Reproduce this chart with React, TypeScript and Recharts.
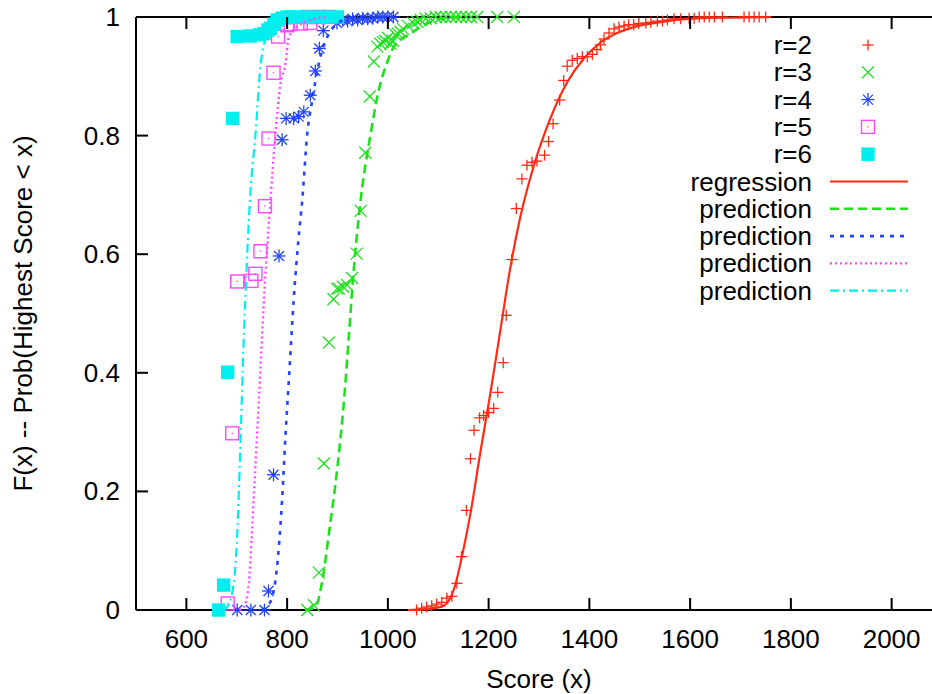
import { ScatterChart, Scatter, XAxis, YAxis, ReferenceLine, Legend } from 'recharts'

const X_TICKS = [600, 800, 1000, 1200, 1400, 1600, 1800, 2000]
const Y_TICKS = [0, 0.2, 0.4, 0.6, 0.8, 1]

// observed highest scores, [score, F(x)]
const r2Points: [number, number][] = [
  [1057, 0], [1067, 0.003], [1077, 0.005], [1087, 0.007], [1097, 0.01], [1107, 0.013], [1117, 0.02],
  [1127, 0.023], [1137, 0.045], [1146, 0.09], [1156, 0.168], [1164, 0.255], [1171, 0.303], [1182, 0.324],
  [1190, 0.328], [1200, 0.333], [1210, 0.34], [1218, 0.367], [1229, 0.417], [1235, 0.497], [1246, 0.591],
  [1255, 0.677], [1266, 0.727], [1276, 0.75], [1286, 0.755], [1296, 0.757], [1311, 0.767], [1319, 0.79],
  [1328, 0.82], [1341, 0.86], [1349, 0.893], [1356, 0.917], [1366, 0.927], [1376, 0.93], [1386, 0.933],
  [1396, 0.933], [1406, 0.937], [1415, 0.945], [1422, 0.953], [1429, 0.963], [1439, 0.973], [1449, 0.98],
  [1459, 0.983], [1469, 0.985], [1478, 0.987], [1488, 0.987], [1498, 0.989], [1512, 0.99], [1522, 0.991],
  [1535, 0.993], [1545, 0.993], [1555, 0.995], [1568, 0.997], [1581, 0.997], [1598, 0.998], [1608, 0.998],
  [1618, 1], [1628, 1], [1638, 1], [1648, 1], [1664, 1], [1707, 1], [1717, 1], [1727, 1], [1737, 1], [1750, 1]
]
const r3Points: [number, number][] = [
  [840, 0], [853, 0.008], [863, 0.063], [873, 0.247], [883, 0.451], [892, 0.524], [899, 0.542], [903, 0.542],
  [911, 0.545], [919, 0.548], [929, 0.56], [938, 0.601], [946, 0.673], [955, 0.771], [964, 0.866], [972, 0.925],
  [979, 0.95], [985, 0.955], [990, 0.958], [995, 0.96], [1000, 0.965], [1005, 0.955], [1010, 0.96], [1015, 0.97],
  [1020, 0.972], [1025, 0.975], [1030, 0.98], [1040, 0.985], [1050, 0.99], [1058, 0.992], [1065, 0.995],
  [1075, 0.997], [1085, 0.998], [1095, 1], [1105, 1], [1115, 1], [1125, 1], [1135, 1], [1145, 1], [1155, 1],
  [1165, 1], [1177, 1], [1217, 1], [1250, 1]
]
const r4Points: [number, number][] = [
  [701, 0], [728, 0], [755, 0], [763, 0.032], [773, 0.228], [784, 0.597], [790, 0.793], [798, 0.829],
  [813, 0.829], [823, 0.832], [833, 0.84], [846, 0.868], [856, 0.909], [864, 0.947], [872, 0.977], [899, 0.99],
  [910, 0.995], [920, 0.993], [930, 0.997], [940, 0.995], [950, 0.998], [960, 0.997], [970, 0.998], [980, 1],
  [990, 1], [1000, 1], [1011, 1]
]
const r5Points: [number, number][] = [
  [682, 0.011], [691, 0.298], [701, 0.554], [729, 0.555], [737, 0.567], [747, 0.605], [756, 0.681],
  [763, 0.795], [773, 0.906], [782, 0.967], [800, 0.986], [807, 0.988], [827, 0.989], [840, 1], [846, 0.99],
  [863, 1], [883, 1]
]
const r6Points: [number, number][] = [
  [664, 0], [674, 0.042], [682, 0.401], [692, 0.829], [701, 0.967], [727, 0.968], [745, 0.97], [754, 0.972],
  [762, 0.978], [767, 0.981], [774, 0.988], [780, 0.995], [790, 0.998], [800, 1], [810, 1], [820, 1],
  [840, 1], [860, 1], [880, 1], [900, 1]
]

// fitted / predicted curves
const regressionCurve: [number, number][] = [
  [1040, 0], [1070, 0.001], [1110, 0.007], [1134, 0.043], [1147, 0.09], [1164, 0.163], [1183, 0.263],
  [1203, 0.363], [1223, 0.47], [1243, 0.577], [1263, 0.663], [1290, 0.75], [1323, 0.83], [1356, 0.89],
  [1389, 0.93], [1422, 0.957], [1455, 0.973], [1488, 0.983], [1555, 0.993], [1621, 0.998], [1687, 0.999],
  [1760, 1]
]
const predict3: [number, number][] = [
  [835, 0], [856, 0.005], [870, 0.05], [883, 0.129], [900, 0.242], [913, 0.354], [923, 0.467], [930, 0.55],
  [946, 0.691], [966, 0.804], [982, 0.877], [998, 0.922], [1012, 0.95], [1045, 0.972], [1078, 0.989],
  [1111, 0.998], [1150, 1]
]
const predict4: [number, number][] = [
  [750, 0], [767, 0.014], [780, 0.073], [790, 0.186], [797, 0.298], [805, 0.41], [813, 0.523], [822, 0.62],
  [830, 0.691], [840, 0.804], [850, 0.86], [863, 0.922], [880, 0.967], [900, 0.989], [930, 1]
]
const predict5: [number, number][] = [
  [705, 0], [714, 0.005], [724, 0.045], [730, 0.129], [737, 0.242], [744, 0.354], [754, 0.523], [767, 0.691],
  [777, 0.804], [787, 0.888], [797, 0.922], [803, 0.965], [820, 0.984], [847, 0.995], [880, 1]
]
const predict6: [number, number][] = [
  [672, 0], [681, 0.005], [694, 0.045], [701, 0.129], [707, 0.27], [712, 0.41], [717, 0.523], [727, 0.703],
  [737, 0.8], [747, 0.916], [753, 0.95], [770, 0.985], [790, 1]
]

const legendNames = ['r=2', 'r=3', 'r=4', 'r=5', 'r=6', 'regression', 'prediction', 'prediction', 'prediction', 'prediction']

const RED = '#ff2a14'
const GREEN = '#1fe01f'
const BLUE = '#2244ff'
const MAGENTA = '#ff48ff'
const CYAN = '#00eeee'

const FONT = '"Liberation Sans", Arial, Helvetica, sans-serif'
const PLOT_TOP = 17
const PLOT_BOTTOM = 610
const PLOT_LEFT = 136
const TICK_LEN = 12

const toXY = (pts: [number, number][]) => pts.map(([x, y]) => ({ x, y }))

const Plus = ({ cx, cy, color }: any) => (
  <g stroke={color} strokeWidth={1.3}>
    <line x1={cx - 5.5} y1={cy} x2={cx + 5.5} y2={cy} />
    <line x1={cx} y1={cy - 5.5} x2={cx} y2={cy + 5.5} />
  </g>
)
const Cross = ({ cx, cy, color }: any) => (
  <g stroke={color} strokeWidth={1.3}>
    <line x1={cx - 6} y1={cy - 6} x2={cx + 6} y2={cy + 6} />
    <line x1={cx - 6} y1={cy + 6} x2={cx + 6} y2={cy - 6} />
  </g>
)
const Star = ({ cx, cy, color }: any) => (
  <g stroke={color} strokeWidth={1.3}>
    <line x1={cx - 6.5} y1={cy} x2={cx + 6.5} y2={cy} />
    <line x1={cx} y1={cy - 6.5} x2={cx} y2={cy + 6.5} />
    <line x1={cx - 5} y1={cy - 5} x2={cx + 5} y2={cy + 5} />
    <line x1={cx - 5} y1={cy + 5} x2={cx + 5} y2={cy - 5} />
  </g>
)
const OpenSquare = ({ cx, cy, color }: any) => (
  <g>
    <rect x={cx - 6.5} y={cy - 6.5} width={13} height={13} fill="none" stroke={color} strokeWidth={1.4} />
    <rect x={cx - 0.7} y={cy - 0.7} width={1.4} height={1.4} fill={color} />
  </g>
)
const FilledSquare = ({ cx, cy, color }: any) => (
  <rect x={cx - 6.7} y={cy - 6.7} width={13.4} height={13.4} fill={color} />
)

const markerSeries = [
  { pts: r2Points, Mark: Plus, color: RED },
  { pts: r3Points, Mark: Cross, color: GREEN },
  { pts: r4Points, Mark: Star, color: BLUE },
  { pts: r5Points, Mark: OpenSquare, color: MAGENTA },
  { pts: r6Points, Mark: FilledSquare, color: CYAN }
]
const lineSeries = [
  { pts: regressionCurve, color: RED, dash: undefined, width: 2.2 },
  { pts: predict3, color: GREEN, dash: '9 5', width: 2.6 },
  { pts: predict4, color: BLUE, dash: '4 6', width: 2.6 },
  { pts: predict5, color: MAGENTA, dash: '2 3', width: 2.4 },
  { pts: predict6, color: CYAN, dash: '9 4 2 4', width: 2.2 }
]

const XTick = ({ x, payload }: any) => (
  <g>
    <line x1={x} y1={PLOT_BOTTOM} x2={x} y2={PLOT_BOTTOM - TICK_LEN} stroke="#000" strokeWidth={2} />
    <line x1={x} y1={PLOT_TOP} x2={x} y2={PLOT_TOP + TICK_LEN} stroke="#000" strokeWidth={2} />
    <text x={x} y={648} textAnchor="middle" fontSize={26} fontFamily={FONT} fill="#000">
      {payload.value}
    </text>
  </g>
)

const YTick = ({ y, payload }: any) => (
  <g>
    <line x1={PLOT_LEFT} y1={y} x2={PLOT_LEFT + TICK_LEN} y2={y} stroke="#000" strokeWidth={2} />
    <text x={120} y={y} textAnchor="end" dominantBaseline="central" fontSize={26} fontFamily={FONT} fill="#000">
      {String(payload.value)}
    </text>
  </g>
)

function KeyBox() {
  const rowH = 27.3
  return (
    <svg width={320} height={280} style={{ overflow: 'visible' }}>
      {legendNames.map((name, i) => {
        const cy = 14 + i * rowH
        return (
          <g key={i}>
            <text x={212} y={cy} textAnchor="end" dominantBaseline="central" fontSize={26} fontFamily={FONT} fill="#000">
              {name}
            </text>
            {i < markerSeries.length ? (
              (() => {
                const { Mark, color } = markerSeries[i]
                return <Mark cx={268} cy={cy} color={color} />
              })()
            ) : (
              <line
                x1={230}
                y1={cy}
                x2={308}
                y2={cy}
                stroke={lineSeries[i - markerSeries.length].color}
                strokeWidth={lineSeries[i - markerSeries.length].width}
                strokeDasharray={lineSeries[i - markerSeries.length].dash}
              />
            )}
          </g>
        )
      })}
    </svg>
  )
}

export default function App() {
  return (
    <div style={{ position: 'absolute', left: 0, top: 0, width: 932, height: 694, overflow: 'hidden', background: '#fff' }}>
      <ScatterChart width={942} height={694} margin={{ top: PLOT_TOP, right: 0, bottom: 0, left: 0 }}>
        <XAxis
          type="number"
          dataKey="x"
          domain={[500, 2100]}
          ticks={X_TICKS}
          height={84}
          axisLine={{ stroke: '#000', strokeWidth: 2 }}
          tickLine={false}
          tick={<XTick />}
          label={{ value: 'Score (x)', position: 'insideBottom', offset: 6, fontSize: 26, fontFamily: FONT, fill: '#000' }}
        />
        <YAxis
          type="number"
          dataKey="y"
          domain={[0, 1]}
          ticks={Y_TICKS}
          width={PLOT_LEFT}
          axisLine={{ stroke: '#000', strokeWidth: 2 }}
          tickLine={false}
          tick={<YTick />}
          label={{
            value: 'F(x) -- Prob(Highest Score < x)',
            angle: -90,
            position: 'insideLeft',
            offset: 23,
            style: { textAnchor: 'middle' },
            fontSize: 26,
            fontFamily: FONT,
            fill: '#000'
          }}
        />
        <ReferenceLine y={1} stroke="#000" strokeWidth={2} />
        {markerSeries.map((s, i) => (
          <Scatter
            key={'m' + i}
            data={toXY(s.pts)}
            fill={s.color}
            isAnimationActive={false}
            shape={(p: any) => <s.Mark cx={p.cx} cy={p.cy} color={s.color} />}
          />
        ))}
        {lineSeries.map((s, i) => (
          <Scatter
            key={'l' + i}
            data={toXY(s.pts)}
            fill="none"
            isAnimationActive={false}
            line={{ stroke: s.color, strokeWidth: s.width, strokeDasharray: s.dash }}
            lineJointType="monotoneX"
            shape={() => <g />}
          />
        ))}
        <Legend
          verticalAlign="middle"
          layout="horizontal"
          wrapperStyle={{ left: 600, top: 31, width: 320, height: 280 }}
          content={() => <KeyBox />}
        />
      </ScatterChart>
    </div>
  )
}
